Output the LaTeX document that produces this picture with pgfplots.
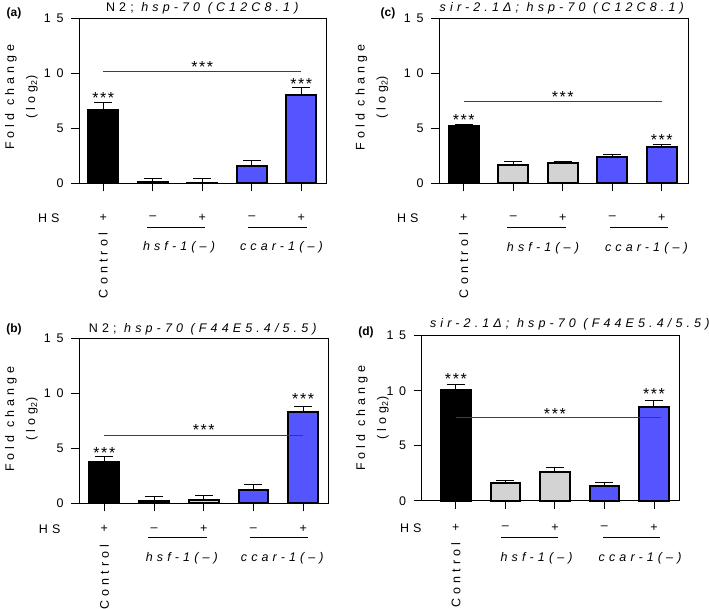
\documentclass[border=0pt]{standalone}
\usepackage{pgfplots}
\pgfplotsset{compat=1.18}
\usepackage{fontspec}
\setmainfont{Liberation Sans}
\newfontfamily\ls{Liberation Sans}[LetterSpace=33]
\newfontfamily\lst{Liberation Sans}[LetterSpace=45]
\newfontfamily\lss{Liberation Sans}[LetterSpace=10]
\newcommand\tickfont{\lst\fontsize{12.5}{14}\selectfont}
\newcommand\labfont{\ls\fontsize{12.5}{14}\selectfont}
\newcommand\titfont{\ls\fontsize{12.5}{14}\selectfont}
\definecolor{barblue}{RGB}{85,85,255}
\definecolor{bargray}{RGB}{211,211,211}
\pgfplotsset{
  panel/.style={scale only axis, height=165pt, ymin=0, ymax=15,
    ytick={0,5,10,15}, xtick={0,1,2,3,4}, xticklabels={},
    tick pos=left, tick align=outside, major tick length=8pt,
    clip=false, axis line style={line width=0.9pt},
    every tick/.style={black, line width=0.9pt},
    /pgf/number format/assume math mode=true,
    yticklabel style={font=\tickfont, xshift=-4pt}},
  errs/.style={error bars/.cd, y dir=plus, y explicit,
    error bar style={line width=1pt, black},
    error mark options={rotate=90, line width=1pt, black, mark size=9pt}},
  blackbar/.style={ybar, bar width=0.6, bar shift=0pt, fill=black, draw=black, line width=2pt, errs},
  graybar/.style={ybar, bar width=0.6, bar shift=0pt, fill=bargray, draw=black, line width=2pt, errs},
  bluebar/.style={ybar, bar width=0.6, bar shift=0pt, fill=barblue, draw=black, line width=2pt, errs},
}
\tikzset{
  sig/.style={line width=0.8pt, black!75},
  star/.style={font=\lss\fontsize{16}{18}\selectfont, anchor=base, inner sep=0pt},
}
\begin{document}
\begin{tikzpicture}
\useasboundingbox (0pt,0pt) rectangle (709pt,-609pt);
% ---------- (a)
\begin{axis}[panel, width=247pt, xmin=-0.49, xmax=4.5, at={(79pt,-183.3pt)}, anchor=south west]
\addplot[blackbar] coordinates {(0,6.7) +- (0,0.6)};
\addplot[graybar] coordinates {(1,0.15) +- (0,0.3) (2,0.03) +- (0,0.42)};
\addplot[bluebar] coordinates {(3,1.6) +- (0,0.45) (4,8.05) +- (0,0.65)};
\draw[sig] (axis cs:0,10.2) -- (axis cs:4,10.2);
\node[star] at (axis cs:2,10.07) {***};
\node[star] at (axis cs:0,7.27) {***};
\node[star] at (axis cs:4,8.57) {***};
\node[font=\titfont] at (axis cs:2,15.87) {N2; \itshape hsp-70 (C12C8.1)};
\node[font=\labfont] at (axis cs:-1.1,-3.15) {HS};
\node[font=\labfont] at (axis cs:0,-3.15) {+};
\node[font=\labfont] at (axis cs:1,-3.15) {\textendash};
\node[font=\labfont] at (axis cs:2,-3.15) {+};
\node[font=\labfont] at (axis cs:3,-3.15) {\textendash};
\node[font=\labfont] at (axis cs:4,-3.15) {+};
\draw[line width=0.8pt] (axis cs:0.88,-3.97) -- (axis cs:2.06,-3.97);
\draw[line width=0.8pt] (axis cs:2.92,-3.97) -- (axis cs:4.12,-3.97);
\node[font=\labfont\itshape] at (axis cs:1.53,-5.8) {hsf-1(\textendash)};
\node[font=\labfont\itshape] at (axis cs:3.6,-5.8) {ccar-1(\textendash)};
\node[font=\labfont, rotate=90, anchor=east] at (axis cs:0,-4.2) {Control};
\end{axis}
% ---------- (c)
\begin{axis}[panel, width=249pt, xmin=-0.5, xmax=4.53, at={(439pt,-183.3pt)}, anchor=south west]
\addplot[blackbar] coordinates {(0,5.18) +- (0,0.15)};
\addplot[graybar] coordinates {(1,1.7) +- (0,0.25) (2,1.85) +- (0,0.17)};
\addplot[bluebar] coordinates {(3,2.35) +- (0,0.3) (4,3.3) +- (0,0.2)};
\draw[sig] (axis cs:0,7.4) -- (axis cs:4,7.4);
\node[star] at (axis cs:2,7.37) {***};
\node[star] at (axis cs:0,5.22) {***};
\node[star] at (axis cs:4,3.42) {***};
\node[font=\titfont] at (axis cs:1.98,15.87) {\itshape sir-2.1Δ; hsp-70 (C12C8.1)};
\node[font=\labfont] at (axis cs:-1.13,-3.15) {HS};
\node[font=\labfont] at (axis cs:0,-3.15) {+};
\node[font=\labfont] at (axis cs:1,-3.15) {\textendash};
\node[font=\labfont] at (axis cs:2,-3.15) {+};
\node[font=\labfont] at (axis cs:3,-3.15) {\textendash};
\node[font=\labfont] at (axis cs:4,-3.15) {+};
\draw[line width=0.8pt] (axis cs:0.87,-3.97) -- (axis cs:2.07,-3.97);
\draw[line width=0.8pt] (axis cs:2.96,-3.97) -- (axis cs:4.12,-3.97);
\node[font=\labfont\itshape] at (axis cs:1.6,-5.88) {hsf-1(\textendash)};
\node[font=\labfont\itshape] at (axis cs:3.69,-5.88) {ccar-1(\textendash)};
\node[font=\labfont, rotate=90, anchor=east] at (axis cs:0,-4.2) {Control};
\end{axis}
% ---------- (b)
\begin{axis}[panel, width=249pt, xmin=-0.51, xmax=4.5, at={(79pt,-503.3pt)}, anchor=south west]
\addplot[blackbar] coordinates {(0,3.8) +- (0,0.45)};
\addplot[graybar] coordinates {(1,0.25) +- (0,0.4) (2,0.3) +- (0,0.45)};
\addplot[bluebar] coordinates {(3,1.25) +- (0,0.5) (4,8.27) +- (0,0.55)};
\draw[sig] (axis cs:0,6.2) -- (axis cs:4,6.2);
\node[star] at (axis cs:2,6.17) {***};
\node[star] at (axis cs:0,4.05) {***};
\node[star] at (axis cs:4,8.97) {***};
\node[font=\titfont] at (axis cs:1.98,15.82) {N2; \itshape hsp-70 (F44E5.4/5.5)};
\node[font=\labfont] at (axis cs:-1.1,-2.36) {HS};
\node[font=\labfont] at (axis cs:0,-2.36) {+};
\node[font=\labfont] at (axis cs:1,-2.36) {\textendash};
\node[font=\labfont] at (axis cs:2,-2.36) {+};
\node[font=\labfont] at (axis cs:3,-2.36) {\textendash};
\node[font=\labfont] at (axis cs:4,-2.36) {+};
\draw[line width=0.8pt] (axis cs:0.88,-3.06) -- (axis cs:2.06,-3.06);
\draw[line width=0.8pt] (axis cs:2.93,-3.06) -- (axis cs:4.1,-3.06);
\node[font=\labfont\itshape] at (axis cs:1.56,-4.97) {hsf-1(\textendash)};
\node[font=\labfont\itshape] at (axis cs:3.58,-4.97) {ccar-1(\textendash)};
\node[font=\labfont, rotate=90, anchor=east] at (axis cs:0,-3.45) {Control};
\end{axis}
% ---------- (d)
\begin{axis}[panel, width=258pt, xmin=-0.69, xmax=4.52, at={(421.7pt,-500.7pt)}, anchor=south west]
\addplot[blackbar] coordinates {(0,10.1) +- (0,0.45)};
\addplot[graybar] coordinates {(1,1.57) +- (0,0.3) (2,2.57) +- (0,0.43)};
\addplot[bluebar] coordinates {(3,1.33) +- (0,0.33) (4,8.52) +- (0,0.6)};
\draw[sig] (axis cs:0,7.6) -- (axis cs:4.15,7.6);
\node[star] at (axis cs:2,7.37) {***};
\node[star] at (axis cs:0,10.57) {***};
\node[star] at (axis cs:4,9.17) {***};
\node[font=\titfont] at (axis cs:2.3,16.06) {\itshape sir-2.1Δ; hsp-70 (F44E5.4/5.5)};
\node[font=\labfont] at (axis cs:-0.91,-2.48) {HS};
\node[font=\labfont] at (axis cs:0,-2.48) {+};
\node[font=\labfont] at (axis cs:1,-2.48) {\textendash};
\node[font=\labfont] at (axis cs:2,-2.48) {+};
\node[font=\labfont] at (axis cs:3,-2.48) {\textendash};
\node[font=\labfont] at (axis cs:4,-2.48) {+};
\draw[line width=0.8pt] (axis cs:0.92,-3.33) -- (axis cs:2.07,-3.33);
\draw[line width=0.8pt] (axis cs:2.97,-3.33) -- (axis cs:4.12,-3.33);
\node[font=\labfont\itshape] at (axis cs:1.63,-5.24) {hsf-1(\textendash)};
\node[font=\labfont\itshape] at (axis cs:3.72,-5.24) {ccar-1(\textendash)};
\node[font=\labfont, rotate=90, anchor=east] at (axis cs:0,-3.5) {Control};
\end{axis}
% ---------- panel letters and y labels
\node[font=\bfseries\fontsize{12}{14}\selectfont] at (14pt,-13pt) {(a)};
\node[font=\bfseries\fontsize{12}{14}\selectfont] at (388pt,-13pt) {(c)};
\node[font=\bfseries\fontsize{12}{14}\selectfont] at (14pt,-329pt) {(b)};
\node[font=\bfseries\fontsize{12}{14}\selectfont] at (366pt,-332pt) {(d)};
\node[font=\ls\fontsize{12.5}{21}\selectfont, rotate=90, align=center] at (21.5pt,-97pt) {Fold change\\(log\textsubscript{2})};
\node[font=\ls\fontsize{12.5}{21}\selectfont, rotate=90, align=center] at (372pt,-97.5pt) {Fold change\\(log\textsubscript{2})};
\node[font=\ls\fontsize{12.5}{21}\selectfont, rotate=90, align=center] at (21.5pt,-419pt) {Fold change\\(log\textsubscript{2})};
\node[font=\ls\fontsize{12.5}{21}\selectfont, rotate=90, align=center] at (372.5pt,-418pt) {Fold change\\(log\textsubscript{2})};
\end{tikzpicture}
\end{document}
